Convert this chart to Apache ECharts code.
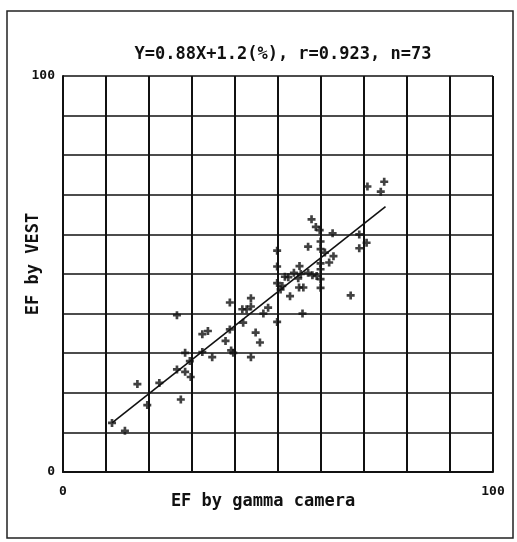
<!DOCTYPE html>
<html>
<head>
<meta charset="utf-8">
<script src="https://cdn.jsdelivr.net/npm/echarts@6/dist/echarts.min.js"></script>
<style>
html,body{margin:0;padding:0;background:#fff;}
#c{width:517px;height:542px;}
</style>
</head>
<body>
<div id="c"></div>
<script>
var titleText = 'Y=0.88X+1.2(%), r=0.923, n=73';
var xName = 'EF by gamma camera';
var yName = 'EF by VEST';
var tickLabels = ['0', '100'];

var gammaEF = [11.4,14.4,17.3,19.6,22.4,26.5,26.5,28.4,28.4,29.7,27.4,29.5,32.4,33.7,32.4,34.7,37.8,38.8,38.8,39.1,39.6,41.7,42.7,43.7,43.7,41.9,43.7,44.8,45.8,46.6,47.7,49.8,49.8,49.8,49.8,50.6,51.6,52.4,53.7,55.0,54.7,55.3,52.8,54.9,55.9,55.7,57.0,57.0,58.0,59.0,57.8,58.8,59.7,59.9,59.9,60.9,62.9,61.9,59.9,59.9,59.9,59.9,62.7,68.9,70.6,68.9,70.8,74.7,73.9,66.9,51.0];
var vestEF  = [12.4,10.4,22.2,16.9,22.5,39.6,25.9,30.1,25.3,24.0,18.3,28.0,34.8,35.6,30.3,29.0,33.1,42.8,36.0,30.7,30.1,41.1,41.1,43.9,41.8,37.7,29.0,35.2,32.7,40.0,41.5,55.9,51.9,47.7,37.9,46.1,49.3,49.2,50.3,52.0,48.9,50.0,44.4,46.6,46.6,40.0,56.9,50.3,49.7,49.5,63.8,61.9,61.1,58.2,56.3,55.4,54.5,52.9,52.7,51.2,48.7,46.5,60.3,60.0,57.9,56.5,72.1,73.3,70.8,44.6,47.0];
var fitX = [11.4, 75.0];
var fitY = [12.4, 67.0];

var pts = gammaEF.map(function(x,i){return [x, vestEF[i]];});
var fit = fitX.map(function(x,i){return [x, fitY[i]];});

var mono = '"DejaVu Sans Mono", monospace';
var chart = echarts.init(document.getElementById('c'));
chart.setOption({
  animation: false,
  backgroundColor: '#fff',
  title: {
    text: titleText,
    left: 278, top: 41, textAlign: 'center',
    textStyle: {fontFamily: mono, fontSize: 17, fontWeight: 'bold', color: '#111'}
  },
  graphic: [{
    type: 'rect', silent: true,
    shape: {x: 7, y: 11, width: 506, height: 527},
    style: {fill: 'none', stroke: '#222', lineWidth: 1.5}
  }],
  grid: {left: 63, right: 24, top: 76, bottom: 70, outerBoundsMode: 'none', containLabel: false},
  xAxis: {
    type: 'value', min: 0, max: 100, interval: 10,
    name: xName, nameLocation: 'middle', nameGap: 21, nameMoveOverlap: false,
    nameTextStyle: {fontFamily: mono, fontSize: 17, fontWeight: 'bold', color: '#111', padding: [0, 30, 0, 0]},
    axisLine: {show: true, lineStyle: {color: '#111', width: 2}},
    axisTick: {show: false},
    axisLabel: {
      margin: 13, fontFamily: mono, fontSize: 13, fontWeight: 'bold', color: '#111',
      formatter: function(v){ return v === 0 ? tickLabels[0] : (v === 100 ? tickLabels[1] : ''); }
    },
    splitLine: {show: true, lineStyle: {color: '#111', width: 2}}
  },
  yAxis: {
    type: 'value', min: 0, max: 100, interval: 10,
    name: yName, nameLocation: 'middle', nameGap: 21, nameRotate: 90, nameMoveOverlap: false,
    nameTextStyle: {fontFamily: mono, fontSize: 17, fontWeight: 'bold', color: '#111', padding: [0, 0, 0, 20]},
    axisLine: {show: true, lineStyle: {color: '#111', width: 2}},
    axisTick: {show: false},
    axisLabel: {
      margin: 8, fontFamily: mono, fontSize: 13, fontWeight: 'bold', color: '#111',
      formatter: function(v){ return v === 0 ? tickLabels[0] : (v === 100 ? tickLabels[1] : ''); }
    },
    splitLine: {show: true, lineStyle: {color: '#111', width: 1.6}}
  },
  series: [{
    type: 'scatter',
    data: pts,
    symbol: 'path://M-1,-3L1,-3L1,-1L3,-1L3,1L1,1L1,3L-1,3L-1,1L-3,1L-3,-1L-1,-1Z',
    symbolSize: 8,
    itemStyle: {color: '#111'},
    z: 3
  }, {
    type: 'line',
    data: fit,
    symbol: 'none',
    lineStyle: {color: '#111', width: 1.6},
    z: 2
  }]
});
</script>
</body>
</html>
